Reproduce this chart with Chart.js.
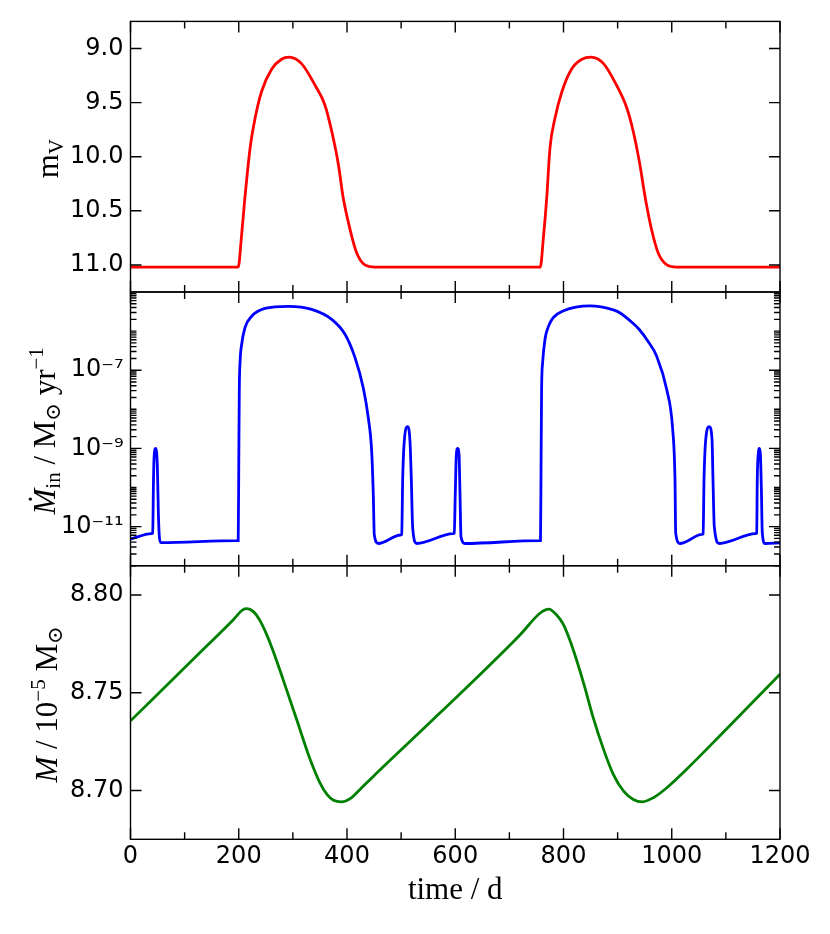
<!DOCTYPE html>
<html>
<head>
<meta charset="utf-8">
<script src="https://cdn.jsdelivr.net/npm/chart.js@4.4.1/dist/chart.umd.min.js"></script>
<style>
  html, body { margin: 0; padding: 0; background: #fff; }
  #wrap { position: relative; width: 830px; height: 934px; }
  #wrap canvas { position: absolute; left: 0; top: 0; }
</style>
</head>
<body>
<div id="wrap">
  <canvas id="grafMag" width="830" height="934"></canvas>
  <canvas id="grafRate" width="830" height="934"></canvas>
  <canvas id="grafMass" width="830" height="934"></canvas>
</div>
<script>
// valores (tempo em dias)
const magDays = [0, 199, 205, 211, 221, 230, 242, 261, 279, 293, 316, 341, 359, 372, 384, 393, 406, 418, 433, 452,
                 757, 763, 769, 775, 784, 797, 815, 834, 851, 874, 898, 917, 929, 941, 951, 963, 975, 991, 1009, 1200]
const magValues = [11.02, 11.02, 10.74, 10.40, 9.92, 9.65, 9.40, 9.19, 9.10, 9.08, 9.14, 9.34, 9.52, 9.77, 10.07, 10.38, 10.68, 10.89, 11.00, 11.02,
                   11.02, 10.74, 10.38, 9.92, 9.65, 9.40, 9.19, 9.10, 9.08, 9.14, 9.34, 9.55, 9.77, 10.07, 10.38, 10.68, 10.89, 11.00, 11.02, 11.02]

const rateDays = [0, 39, 41, 42.5, 43.7, 46.5, 49.6, 51.5, 53.3, 56,
                  197, 199, 200, 201, 202.5, 205.4, 211.5, 223.9, 248.5, 291.5, 334.8, 371.7, 396.3, 414.8, 430.1, 439.4, 445.6, 448.6, 450.4, 457.8,
                  499, 501.1, 502.9, 505.3, 512.1, 516.4, 518.8, 521.4, 528.8,
                  596, 598.2, 600, 602, 604.5, 607, 608.8, 610.6, 618,
                  755.5, 757.5, 758.5, 759.5, 761.5, 765.8, 772, 781, 800, 849, 892, 904, 925, 940, 956, 972, 990.7, 1001.8, 1006, 1007.3, 1015,
                  1056, 1058, 1059.6, 1063.3, 1069.4, 1074.4, 1076.2, 1078.6, 1087.8,
                  1155, 1157, 1158, 1160, 1161.7, 1163.6, 1165.5, 1167.3, 1172.3, 1200]
const rateValues = [4.8e-12, 6.6e-12, 6.8e-12, 1.6e-10, 6.3e-10, 1.0e-9, 3.5e-10, 2.2e-11, 5.5e-12, 3.9e-12,
                    4.4e-12, 4.4e-12, 3e-10, 3e-8, 1.7e-7, 4.6e-7, 1.23e-6, 2.4e-6, 3.8e-6, 4.3e-6, 3.6e-6, 2.0e-6, 8.3e-7, 2.1e-7, 3.5e-8, 6e-9, 8.3e-10, 6.5e-11, 6.2e-12, 3.7e-12,
                    6.1e-12, 6.3e-12, 1.7e-10, 1.2e-9, 3.6e-9, 1.5e-9, 1.7e-10, 9e-12, 3.7e-12,
                    6.6e-12, 6.8e-12, 6.5e-11, 6.9e-10, 1.0e-9, 6.9e-10, 6.5e-11, 5.5e-12, 3.7e-12,
                    4.4e-12, 4.4e-12, 3e-10, 3e-8, 1.6e-7, 6.2e-7, 1.3e-6, 2.2e-6, 3.3e-6, 4.4e-6, 3.5e-6, 2.95e-6, 1.74e-6, 1.1e-6, 5.5e-7, 2.3e-7, 3.2e-8, 3e-9, 1.6e-10, 6.8e-12, 3.7e-12,
                    6.3e-12, 6.5e-12, 1.6e-10, 2e-9, 3.6e-9, 1.7e-9, 1.6e-10, 1e-11, 3.7e-12,
                    6.6e-12, 6.8e-12, 1.6e-10, 7.6e-10, 1.0e-9, 7.6e-10, 1.07e-10, 6.8e-12, 3.7e-12, 3.85e-12]

const massDays = [0, 128, 190, 208, 215, 227, 239, 252, 264, 282, 307, 332, 350, 363, 375, 390, 406, 424, 449, 572,
                  720, 757, 773, 787, 800, 818, 837, 855, 874, 892, 911, 929, 946, 966, 991, 1028, 1089, 1200]
const massValues = [8.7356, 8.7704, 8.7874, 8.7925, 8.7930, 8.7915, 8.7870, 8.7795, 8.7710, 8.7567, 8.7363, 8.7158, 8.7039, 8.6980, 8.6950, 8.6942, 8.6958, 8.7005, 8.7073, 8.7397,
                    8.7797, 8.7908, 8.7928, 8.7899, 8.7848, 8.7720, 8.7550, 8.7371, 8.7210, 8.7082, 8.6996, 8.6954, 8.6942, 8.6963, 8.7014, 8.7110, 8.7280, 8.7595]

// ticks dos eixos
const xMajorTicks = [0, 200, 400, 600, 800, 1000, 1200]
const xMinorTicks = [100, 300, 500, 700, 900, 1100]
const magTicks = [9.0, 9.5, 10.0, 10.5, 11.0]
const rateTicks = [1e-7, 1e-9, 1e-11]
const rateTickLabels = ["10⁻⁷", "10⁻⁹", "10⁻¹¹"]
const massTicks = [8.70, 8.75, 8.80]

// ticks menores do eixo log: 1..9 x 10^n
const rateMinorTicks = []
for (let e = -12; e <= -6; e++) {
    for (let m = 1; m <= 9; m++) rateMinorTicks.push(m * Math.pow(10, e))
}

const SANS = '"DejaVu Sans", sans-serif'
const SERIF = '"Liberation Serif", "DejaVu Serif", serif'
const tickFont = { family: SANS, size: 24 }

// moldura com ticks para dentro nos quatro lados
function moldura(yMajor, yMinor) {
    return {
        id: "moldura",
        afterDraw(chart) {
            const { ctx, chartArea: a } = chart
            const xs = chart.scales.x, ys = chart.scales.y
            ctx.save()
            ctx.strokeStyle = "#000"
            ctx.lineWidth = 1.4
            ctx.beginPath()
            const tickX = (v, len) => {
                const px = xs.getPixelForValue(v)
                ctx.moveTo(px, a.top); ctx.lineTo(px, a.top + len)
                ctx.moveTo(px, a.bottom); ctx.lineTo(px, a.bottom - len)
            }
            const tickY = (v, len) => {
                const py = ys.getPixelForValue(v)
                if (py < a.top - 0.5 || py > a.bottom + 0.5) return
                ctx.moveTo(a.left, py); ctx.lineTo(a.left + len, py)
                ctx.moveTo(a.right, py); ctx.lineTo(a.right - len, py)
            }
            xMajorTicks.forEach(v => tickX(v, 11))
            xMinorTicks.forEach(v => tickX(v, 7))
            yMinor.forEach(v => tickY(v, 6))
            yMajor.forEach(v => tickY(v, 11))
            ctx.stroke()
            ctx.strokeRect(a.left, a.top, a.width, a.height)
            ctx.restore()
        }
    }
}

// título do eixo y com sub/sobrescritos, girado 90 graus
function tituloY(parts, baseX, offsetY) {
    return {
        id: "tituloY",
        afterDraw(chart) {
            const { ctx, chartArea: a } = chart
            ctx.save()
            ctx.fillStyle = "#000"
            ctx.textBaseline = "alphabetic"
            let total = 0
            parts.forEach(p => { ctx.font = p.font; total += ctx.measureText(p.t).width })
            ctx.translate(baseX, (a.top + a.bottom) / 2 + offsetY)
            ctx.rotate(-Math.PI / 2)
            let x = -total / 2
            parts.forEach(p => {
                ctx.font = p.font
                ctx.fillText(p.t, x, p.dy || 0)
                x += ctx.measureText(p.t).width
            })
            ctx.restore()
        }
    }
}

const big = "31px " + SERIF
const bigIt = "italic 31px " + SERIF
const small = "21px " + SERIF

function pontos(days, values) {
    return days.map((d, i) => ({ x: d, y: values[i] }))
}

function eixoX(mostrar) {
    return {
        type: "linear",
        min: 0, max: 1200,
        display: mostrar,
        grid: { display: false, drawTicks: false },
        border: { display: false },
        afterBuildTicks: s => { s.ticks = xMajorTicks.map(v => ({ value: v })) },
        afterFit: s => { s.height = mostrar ? 94.7 : 0 },
        ticks: { font: tickFont, color: "#000", padding: 3, maxRotation: 0, autoSkip: false, callback: v => String(v) },
        title: {
            display: mostrar,
            text: "time / d",
            font: { family: SERIF, size: 31 },
            color: "#000",
            padding: { top: 0, bottom: 25 }
        }
    }
}

function eixoY(extra, valores, rotulo) {
    return Object.assign({
        grid: { display: false, drawTicks: false },
        border: { display: false },
        afterBuildTicks: s => { s.ticks = valores.map(v => ({ value: v })) },
        afterFit: s => { s.width = 130.5 },
        ticks: { font: tickFont, color: "#000", padding: 7, autoSkip: false, callback: rotulo }
    }, extra)
}

function criarGrafico(id, dados, cor, padding, xMostrar, yScale, plugins) {
    return new Chart(document.getElementById(id).getContext("2d"), {
        type: "line",
        data: {
            datasets: [{
                data: dados,
                borderColor: cor,
                borderWidth: 2.8,
                pointRadius: 0,
                cubicInterpolationMode: "monotone",
                fill: false
            }]
        },
        options: {
            responsive: false,
            animation: false,
            layout: { padding: padding },
            plugins: { legend: { display: false }, tooltip: { enabled: false } },
            scales: { x: eixoX(xMostrar), y: yScale }
        },
        plugins: plugins
    })
}

// painel 1: magnitude
criarGrafico("grafMag", pontos(magDays, magValues), "#ff0000",
    { top: 18, bottom: 642, left: 0, right: 50 }, false,
    eixoY({ type: "linear", min: 8.75, max: 11.25, reverse: true }, magTicks, v => v.toFixed(1)),
    [moldura(magTicks, []), tituloY([{ t: "m", font: big }, { t: "V", font: small, dy: 5 }], 58, 2)])

// painel 2: taxa de acreção (log)
criarGrafico("grafRate", pontos(rateDays, rateValues), "#0000ff",
    { top: 292, bottom: 368.3, left: 0, right: 50 }, false,
    eixoY({ type: "logarithmic", min: 1e-12, max: 1e-5 }, rateTicks, (v, i) => rateTickLabels[i]),
    [moldura(rateTicks, rateMinorTicks), tituloY([
        { t: "Ṁ", font: bigIt }, { t: "in", font: small, dy: 5 }, { t: " / ", font: big },
        { t: "M", font: big }, { t: "⊙", font: small, dy: 5 }, { t: " yr", font: big },
        { t: "−1", font: small, dy: -12 }], 55, 2)])

// painel 3: massa
criarGrafico("grafMass", pontos(massDays, massValues), "#008000",
    { top: 565.7, bottom: 0, left: 0, right: 50 }, true,
    eixoY({ type: "linear", min: 8.675, max: 8.815 }, massTicks, v => v.toFixed(2)),
    [moldura(massTicks, []), tituloY([
        { t: "M", font: bigIt }, { t: " / 10", font: big }, { t: "−5", font: small, dy: -12 },
        { t: " M", font: big }, { t: "⊙", font: small, dy: 5 }], 57, 2)])
</script>
</body>
</html>
